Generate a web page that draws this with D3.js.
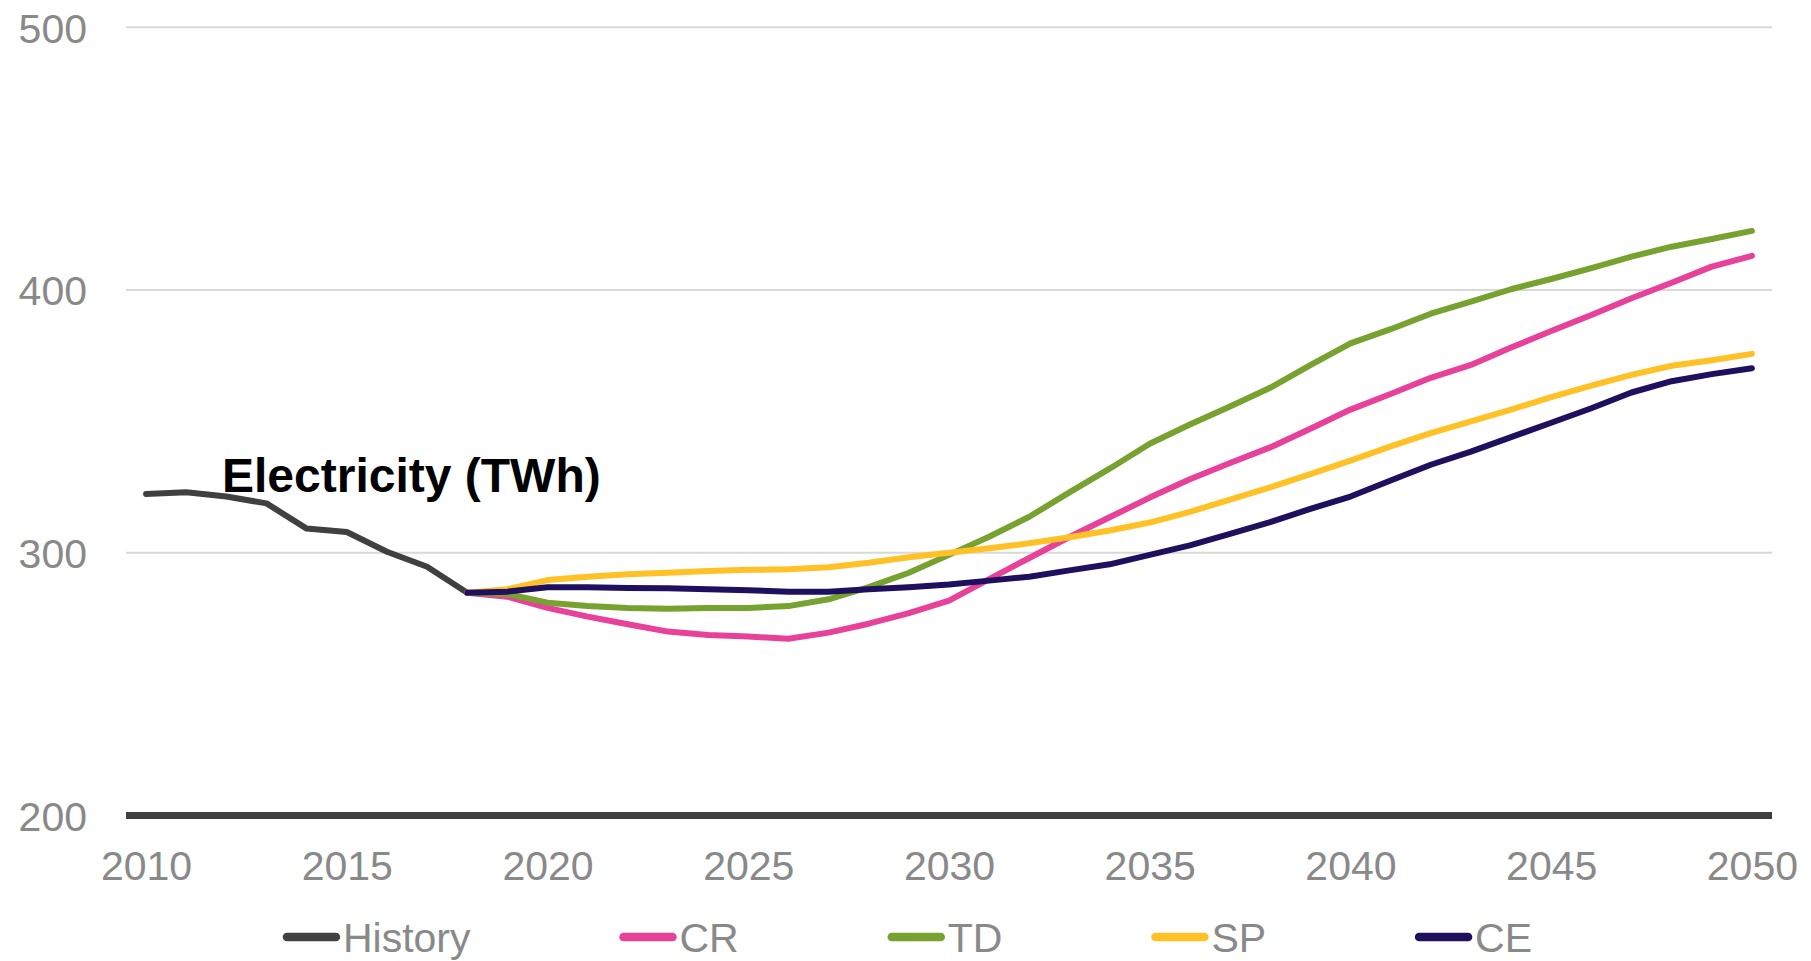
<!DOCTYPE html>
<html>
<head>
<meta charset="utf-8">
<script src="https://cdn.jsdelivr.net/npm/d3@7"></script>
<style>
    html, body { margin: 0; padding: 0; background: #fff; }
    svg { display: block; font-family: "Liberation Sans", Arial, sans-serif; }
</style>
</head>
<body>
<svg id="chart" width="1811" height="961"></svg>
<script>
// categories
const years = d3.range(2010, 2051);
const historyYears = [2010, 2011, 2012, 2013, 2014, 2015, 2016, 2017, 2018];
const scenarioYears = d3.range(2018, 2051);
const xTicks = [2010, 2015, 2020, 2025, 2030, 2035, 2040, 2045, 2050];
const yTicks = [200, 300, 400, 500];

// series values (TWh)
const historyValues = [322.4, 323.0, 321.4, 318.8, 309.2, 307.9, 300.4, 294.7, 284.8];
const crValues = [
    284.8, 283.3, 279.0, 275.7, 272.8, 270.0, 268.7, 268.1, 267.3, 269.6,
    273.0, 277.0, 281.8, 290.0, 298.0, 306.0, 313.5, 321.0, 328.0, 334.2,
    340.1, 347.2, 354.5, 360.4, 366.6, 371.5, 378.1, 384.4, 390.5, 396.9,
    402.8, 408.9, 413.0
];
const tdValues = [
    284.8, 284.3, 281.0, 279.7, 279.0, 278.7, 279.0, 279.0, 279.7, 282.3,
    286.9, 292.4, 299.2, 306.1, 313.7, 323.0, 332.0, 341.5, 348.8, 355.7,
    362.8, 371.4, 379.7, 385.1, 391.0, 395.6, 400.3, 404.2, 408.3, 412.7,
    416.5, 419.4, 422.5
];
const spValues = [
    284.8, 286.1, 289.6, 290.9, 291.8, 292.4, 293.1, 293.5, 293.7, 294.5,
    296.2, 298.3, 300.0, 301.7, 303.6, 305.9, 308.5, 311.5, 315.6, 320.2,
    324.9, 329.9, 335.1, 340.5, 345.5, 350.0, 354.5, 359.2, 363.6, 367.7,
    371.2, 373.3, 375.7
];
const ceValues = [
    284.8, 285.2, 286.9, 286.9, 286.6, 286.5, 286.1, 285.7, 285.2, 285.2,
    286.1, 286.9, 287.9, 289.4, 290.9, 293.3, 295.6, 299.2, 302.8, 307.2,
    311.7, 316.7, 321.4, 327.5, 333.5, 338.5, 344.0, 349.5, 355.0, 361.0,
    365.3, 368.0, 370.2
];

const seriesNames = ["History", "CR", "TD", "SP", "CE"];
const colors = ["#404040", "#e8419a", "#77a22f", "#ffc125", "#1e105f"];
const titleText = "Electricity (TWh)";

const series = [
    { name: "History", values: historyValues.map((v, i) => ({ year: historyYears[i], value: v })) },
    { name: "CR", values: crValues.map((v, i) => ({ year: scenarioYears[i], value: v })) },
    { name: "TD", values: tdValues.map((v, i) => ({ year: scenarioYears[i], value: v })) },
    { name: "SP", values: spValues.map((v, i) => ({ year: scenarioYears[i], value: v })) },
    { name: "CE", values: ceValues.map((v, i) => ({ year: scenarioYears[i], value: v })) },
];

const options = {
    width: 1811,
    height: 961,
    plot: { left: 126, right: 1772, top: 27.3, bottom: 815.5 },
    fontSize: 41,
    textColor: "#898989",
    gridColor: "#d9d9d9",
    axisColor: "#404040",
    lineWidth: 6,
};

const svg = d3.select("#chart");

// scales
const xScale = d3.scalePoint()
    .domain(years)
    .range([options.plot.left, options.plot.right])
    .padding(0.5);
const yScale = d3.scaleLinear()
    .domain([200, 500])
    .range([options.plot.bottom, options.plot.top]);
const colorScale = d3.scaleOrdinal().domain(seriesNames).range(colors);

// grid
svg.append("g")
    .selectAll("line")
    .data(yTicks.filter(d => d > 200))
    .join("line")
    .attr("x1", options.plot.left)
    .attr("x2", options.plot.right)
    .attr("y1", d => yScale(d))
    .attr("y2", d => yScale(d))
    .attr("stroke", options.gridColor)
    .attr("stroke-width", 2);

// y axis
const yAxis = svg.append("g")
    .attr("transform", `translate(${options.plot.left - 39}, 0)`)
    .call(d3.axisLeft(yScale).tickValues(yTicks).tickSize(0).tickPadding(0));
yAxis.select(".domain").remove();
yAxis.selectAll("text")
    .attr("fill", options.textColor)
    .attr("font-size", options.fontSize)
    .attr("font-family", "Liberation Sans, Arial, sans-serif")
    .attr("dy", "0.36em");

// x axis
const xAxis = svg.append("g")
    .attr("transform", `translate(0, ${options.plot.bottom})`)
    .call(d3.axisBottom(xScale).tickValues(xTicks).tickSize(0).tickPadding(0));
xAxis.select(".domain").remove();
xAxis.selectAll("text")
    .attr("fill", options.textColor)
    .attr("font-size", options.fontSize)
    .attr("font-family", "Liberation Sans, Arial, sans-serif")
    .attr("y", 64.5)
    .attr("dy", 0);

// base line at 200
svg.append("line")
    .attr("x1", options.plot.left)
    .attr("x2", options.plot.right)
    .attr("y1", yScale(200))
    .attr("y2", yScale(200))
    .attr("stroke", options.axisColor)
    .attr("stroke-width", 7);

// lines
const line = d3.line()
    .x(d => xScale(d.year))
    .y(d => yScale(d.value));

svg.append("g")
    .selectAll("path")
    .data(series)
    .join("path")
    .attr("d", d => line(d.values))
    .attr("fill", "none")
    .attr("stroke", d => colorScale(d.name))
    .attr("stroke-width", options.lineWidth)
    .attr("stroke-linejoin", "round")
    .attr("stroke-linecap", "round");

// title
svg.append("text")
    .attr("x", 222)
    .attr("y", 492)
    .attr("font-size", 48)
    .attr("font-weight", "bold")
    .attr("fill", "#000")
    .text(titleText);

// legend
const legend = svg.append("g").attr("transform", "translate(0, 937)");
const items = legend.selectAll("g")
    .data(seriesNames)
    .join("g");

items.append("line")
    .attr("x1", 4)
    .attr("x2", 53)
    .attr("y1", 0)
    .attr("y2", 0)
    .attr("stroke", d => colorScale(d))
    .attr("stroke-width", 8.5)
    .attr("stroke-linecap", "round");

items.append("text")
    .attr("x", 60)
    .attr("y", 15)
    .attr("font-size", options.fontSize)
    .attr("fill", options.textColor)
    .text(d => d);

// lay out legend items side by side, centered
const widths = [];
items.each(function () {
    widths.push(60 + d3.select(this).select("text").node().getComputedTextLength());
});
const gap = 149;
const total = d3.sum(widths) + gap * (widths.length - 1);
let offset = options.width / 2 - total / 2 + 2;
items.attr("transform", (d, i) => {
    const x = offset;
    offset += widths[i] + gap;
    return `translate(${x}, 0)`;
});
</script>
</body>
</html>
